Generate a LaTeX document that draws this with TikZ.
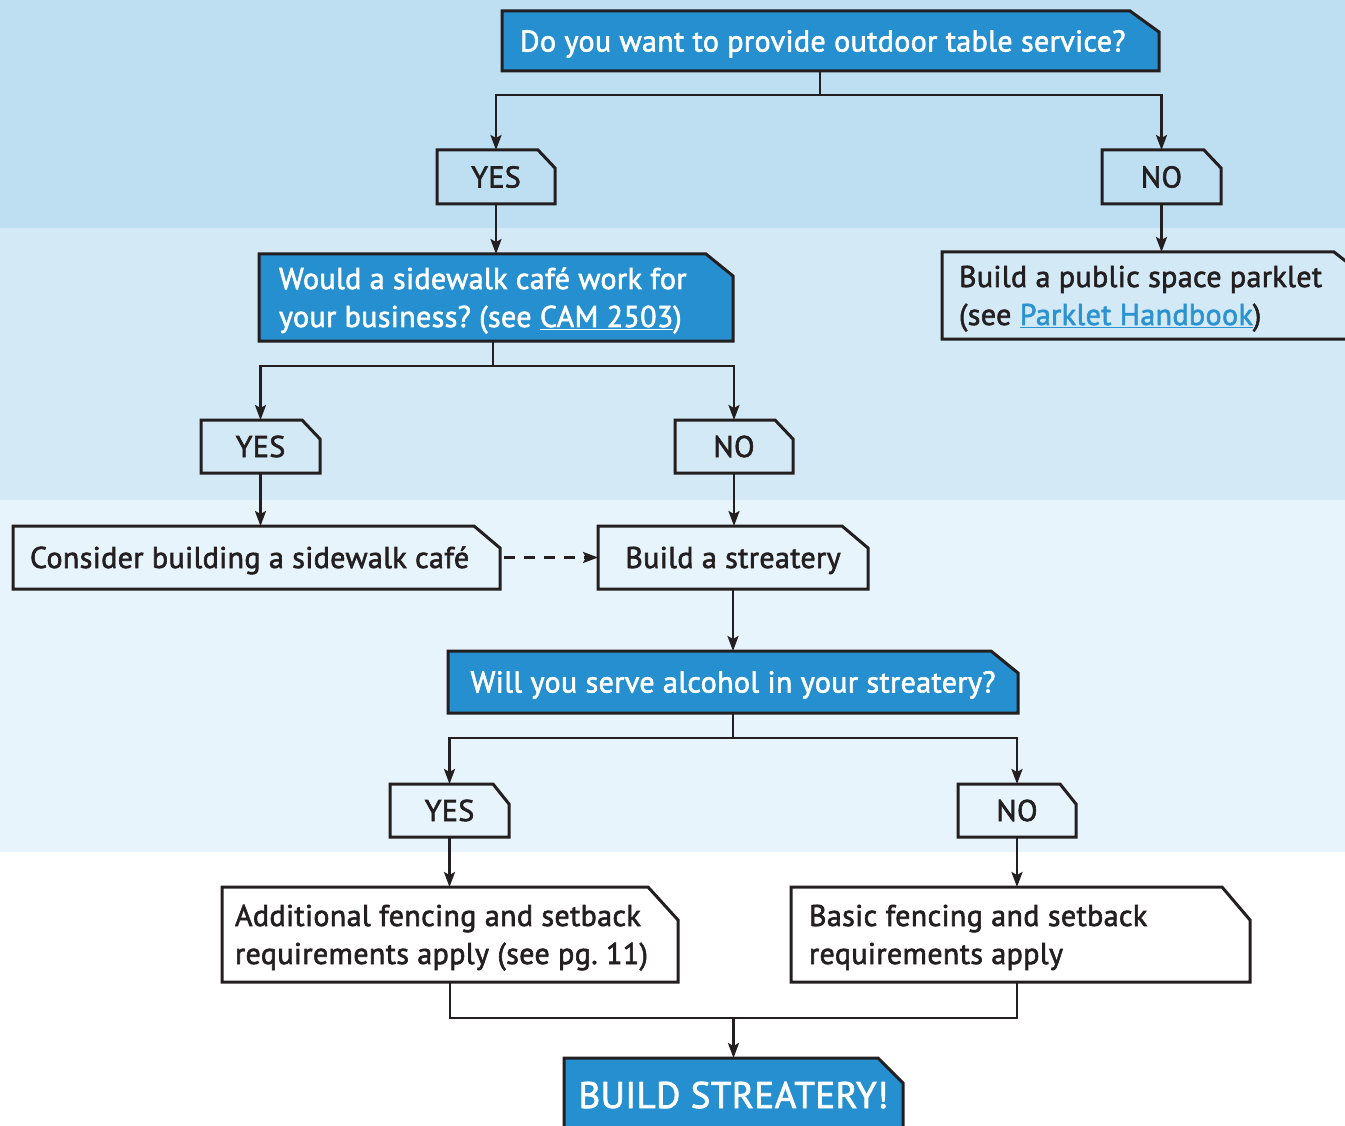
\documentclass[tikz,border=0pt]{standalone}
\usepackage{fontspec}
\setmainfont[FakeBold=2,LetterSpace=1.3]{PT Sans}
\usetikzlibrary{arrows.meta,backgrounds,calc}
\definecolor{bandA}{HTML}{BDDFF1}
\definecolor{bandB}{HTML}{D3E9F6}
\definecolor{bandC}{HTML}{E8F4FB}
\definecolor{qblue}{HTML}{258FCF}
\definecolor{ink}{HTML}{231F20}
\definecolor{linkblue}{HTML}{2B93D1}
\frenchspacing
\newcommand\cutoutline[4]{%
  \path[#4] (#1.south west) -- (#1.north west) -- ([xshift=-#2pt]#1.north east)
    -- ([yshift=-#3pt]#1.north east) -- (#1.south east) -- cycle;}
% a line whose box is exactly cap height, no depth
\newcommand\capline[1]{\smash{#1}\rule{0pt}{21pt}}
\newcommand\lastline[1]{\smash{#1}}
\tikzset{
  box/.style={inner sep=0pt, outer sep=0pt, font=\fontsize{30}{38}\selectfont\frenchspacing, text=ink},
  qbox/.style={box, text=white},
  leftbox/.style={align=flush left},
  plainfill/.style={fill=white, draw=ink, line width=3pt, line join=miter},
  lightfill/.style={draw=ink, line width=3pt, line join=miter},
  bluefill/.style={fill=qblue, draw=ink, line width=3pt, line join=miter},
  conn/.style={line width=2.5pt, draw=ink},
  arr/.style={conn, -{Stealth[length=15pt,width=11pt,inset=3pt]}},
}
\begin{document}
\begin{tikzpicture}[x=1pt,y=-1pt]
\useasboundingbox (0,0) rectangle (1345,1126);
% nodes
\node[qbox, leftbox, minimum height=60pt, text width=621pt, inner xsep=18pt] (q1) at (830.5,41) {\capline{Do you want to provide outdoor table service?}};
\node[box, minimum width=118pt, minimum height=54pt] (yes1) at (496,177) {\capline{YES}};
\node[box, minimum width=119pt, minimum height=54pt] (no1) at (1161.5,177) {\capline{NO}};
\node[qbox, leftbox, minimum height=87pt, text width=434pt, inner xsep=20pt] (q2) at (496,297.5) {\capline{Would a sidewalk café work for}\\\lastline{your business? (see \underline{CAM 2503})}};
\node[box, leftbox, minimum height=87pt, text width=386pt, inner xsep=17pt] (parklet) at (1152,295.5) {\capline{Build a public space parklet}\\\lastline{(see {\color{linkblue}\underline{Parklet Handbook}})}};
\node[box, minimum width=119pt, minimum height=53pt] (yes2) at (260.5,446.5) {\capline{YES}};
\node[box, minimum width=118pt, minimum height=53pt] (no2) at (734,446.5) {\capline{NO}};
\node[box, leftbox, minimum height=63pt, text width=453pt, inner xsep=17pt] (consider) at (256.5,557.5) {\capline{Consider building a sidewalk café}};
\node[box, minimum width=270pt, minimum height=63pt] (streatery) at (733,557.5) {\capline{Build a streatery}};
\node[qbox, minimum width=570pt, minimum height=62pt] (q3) at (733,682) {\capline{Will you serve alcohol in your streatery?}};
\node[box, minimum width=119pt, minimum height=53pt] (yes3) at (449.5,810.5) {\capline{YES}};
\node[box, minimum width=118pt, minimum height=53pt] (no3) at (1017,810.5) {\capline{NO}};
\node[box, leftbox, minimum height=95pt, text width=430pt, inner xsep=13pt] (add) at (450,934.5) {\capline{Additional fencing and setback}\\\lastline{requirements apply (see pg. 11)}};
\node[box, leftbox, minimum height=95pt, text width=423pt, inner xsep=18pt] (basic) at (1020.5,934.5) {\capline{Basic fencing and setback}\\\lastline{requirements apply}};
\node[qbox, minimum width=339pt, minimum height=84pt, font=\fontsize{37}{44}\selectfont] (final) at (733.5,1100) {\smash{BUILD STREATERY!}\rule[-10pt]{0pt}{36pt}};
% background: bands and box outlines
\begin{scope}[on background layer]
  \clip (0,0) rectangle (1345,1126);
  \fill[bandA] (0,0) rectangle (1345,228);
  \fill[bandB] (0,228) rectangle (1345,500);
  \fill[bandC] (0,500) rectangle (1345,852);
  \fill[white] (0,852) rectangle (1345,1126);
  \cutoutline{q1}{29}{21}{bluefill}
  \cutoutline{yes1}{17}{18}{lightfill}
  \cutoutline{no1}{17}{18}{lightfill}
  \cutoutline{q2}{27}{22}{bluefill}
  \cutoutline{parklet}{28}{22}{lightfill}
  \cutoutline{yes2}{18}{19}{lightfill}
  \cutoutline{no2}{18}{19}{lightfill}
  \cutoutline{consider}{26}{22}{lightfill}
  \cutoutline{streatery}{26}{22}{lightfill}
  \cutoutline{q3}{27}{22}{bluefill}
  \cutoutline{yes3}{16}{20}{lightfill}
  \cutoutline{no3}{16}{20}{lightfill}
  \cutoutline{add}{30}{33}{plainfill}
  \cutoutline{basic}{28}{33}{plainfill}
  \cutoutline{final}{25}{25}{bluefill}
\end{scope}
% connectors
\coordinate (j1) at ($(q1.south)+(-10.5,24)$);
\draw[conn] ($(q1.south)+(-10.5,0)$) -- (j1);
\draw[arr] (j1) -| (yes1.north);
\draw[arr] (j1) -| (no1.north);
\draw[arr] (yes1.south) -- (yes1.south |- q2.north);
\draw[arr] (no1.south) -- (no1.south |- parklet.north);
\coordinate (j2) at ($(q2.south)+(-3,25)$);
\draw[conn] ($(q2.south)+(-3,0)$) -- (j2);
\draw[arr] (j2) -| (yes2.north);
\draw[arr] (j2) -| (no2.north);
\draw[arr] (yes2.south) -- (yes2.south |- consider.north);
\draw[arr] (no2.south) -- (no2.south |- streatery.north);
\draw[arr, dash pattern=on 11pt off 9pt] ($(consider.east)+(4,0)$) -- (streatery.west);
\draw[arr] (streatery.south) -- (q3.north);
\coordinate (j3) at ($(q3.south)+(0,25)$);
\draw[conn] (q3.south) -- (j3);
\draw[arr] (j3) -| (yes3.north);
\draw[arr] (j3) -| (no3.north);
\draw[arr] (yes3.south) -- (yes3.south |- add.north);
\draw[arr] (no3.south) -- (no3.south |- basic.north);
\coordinate (j4) at ($(add.south)+(0,36)$);
\draw[conn] (add.south) -- (j4) -| (no3.south |- basic.south);
\draw[arr] (final.north |- j4) -- (final.north);
\end{tikzpicture}
\end{document}
